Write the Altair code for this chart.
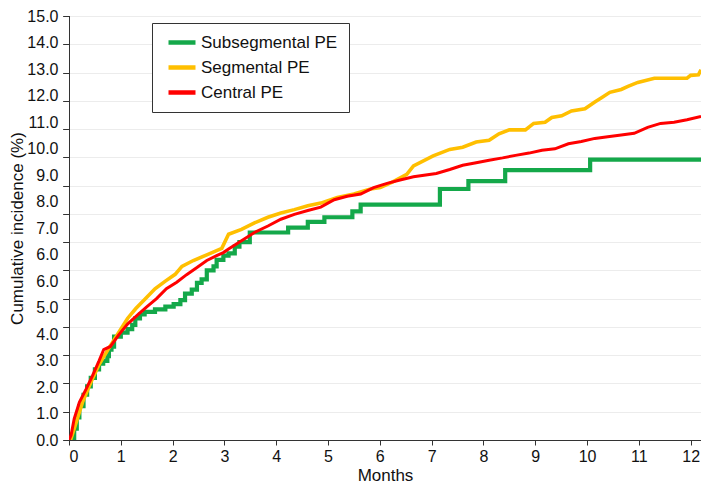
import json
import altair as alt
import pandas as pd

# ---- data ----
series_names = ["Subsegmental PE", "Segmental PE", "Central PE"]
series_colors = ["#14a84a", "#ffbf00", "#ff0000"]

sub_months = [0.0, 0.06, 0.1, 0.15, 0.2, 0.28, 0.35, 0.42, 0.5, 0.58, 0.66, 0.74, 0.77, 0.82,
              0.87, 1.0, 1.13, 1.22, 1.28, 1.37, 1.46, 1.66, 1.86, 2.02, 2.15, 2.24, 2.37,
              2.47, 2.56, 2.66, 2.79, 2.85, 2.98, 3.08, 3.2, 3.29, 3.49, 4.23, 4.61, 4.93,
              5.47, 5.63, 7.16, 7.71, 8.42, 10.06, 12.2]
sub_values = [0.0, 0.0, 0.4, 0.8, 1.2, 1.6, 1.9, 2.2, 2.5, 2.7, 2.8, 2.97, 3.2, 3.3,
              3.66, 3.8, 3.92, 4.07, 4.3, 4.44, 4.53, 4.62, 4.72, 4.81, 4.95, 5.18, 5.32,
              5.56, 5.68, 6.0, 6.14, 6.37, 6.52, 6.6, 6.84, 7.0, 7.34, 7.51, 7.72, 7.88,
              8.09, 8.33, 8.88, 9.16, 9.55, 9.92, 9.92]

seg_months = [0.0, 0.03, 0.14, 0.26, 0.42, 0.58, 0.77, 0.96, 1.13, 1.29, 1.46, 1.66, 1.86,
              2.05, 2.18, 2.4, 2.66, 2.95, 3.08, 3.33, 3.58, 3.84, 4.09, 4.35, 4.61, 4.86,
              5.18, 5.5, 5.82, 6.01, 6.26, 6.52, 6.65, 7.03, 7.35, 7.6, 7.86, 8.11, 8.3,
              8.5, 8.81, 8.97, 9.19, 9.32, 9.51, 9.7, 9.96, 10.15, 10.28, 10.44, 10.66,
              10.79, 10.98, 11.3, 11.93, 12.0, 12.15, 12.2]
seg_values = [0.0, 0.0, 0.63, 1.33, 2.03, 2.67, 3.25, 3.8, 4.3, 4.65, 4.97, 5.35, 5.62,
              5.86, 6.14, 6.35, 6.55, 6.78, 7.28, 7.45, 7.68, 7.88, 8.03, 8.15, 8.29, 8.38,
              8.58, 8.7, 8.88, 8.93, 9.14, 9.4, 9.7, 10.05, 10.28, 10.36, 10.54, 10.6, 10.83,
              10.97, 10.97, 11.2, 11.24, 11.41, 11.47, 11.64, 11.72, 11.96, 12.11, 12.3, 12.4,
              12.51, 12.65, 12.8, 12.8, 12.9, 12.92, 13.1]

cen_months = [0.0, 0.04, 0.1, 0.2, 0.33, 0.45, 0.58, 0.67, 0.8, 0.96, 1.13, 1.32, 1.5, 1.69,
              1.88, 2.08, 2.27, 2.47, 2.66, 2.85, 2.98, 3.08, 3.33, 3.58, 3.84, 4.09, 4.35,
              4.61, 4.86, 5.12, 5.37, 5.63, 5.88, 6.14, 6.39, 6.65, 7.09, 7.35, 7.6, 7.86,
              8.11, 8.37, 8.62, 8.88, 9.13, 9.38, 9.64, 9.89, 10.15, 10.4, 10.66, 10.91,
              11.17, 11.42, 11.68, 11.93, 12.2]
cen_values = [0.0, 0.17, 0.75, 1.33, 1.8, 2.26, 2.8, 3.2, 3.31, 3.72, 4.1, 4.42, 4.71, 5.0,
              5.35, 5.58, 5.85, 6.1, 6.35, 6.52, 6.63, 6.76, 7.05, 7.34, 7.57, 7.81, 7.98,
              8.12, 8.24, 8.5, 8.62, 8.7, 8.93, 9.08, 9.2, 9.31, 9.43, 9.57, 9.72, 9.81,
              9.9, 9.98, 10.07, 10.15, 10.25, 10.3, 10.48, 10.56, 10.67, 10.73, 10.79, 10.85,
              11.06, 11.2, 11.24, 11.33, 11.45]

x_ticks = list(range(0, 13))
y_ticks = list(range(0, 16))
# tick labels exactly as printed on the reference (note the repeated "6.0")
y_labels = ["0.0", "1.0", "2.0", "3.0", "4.0", "5.0", "6.0", "6.0", "7.0", "8.0",
            "9.0", "10.0", "11.0", "12.0", "13.0", "14.0", "15.0"]

FONT = "Liberation Sans"

rows = []
for name, ms, vs in [(series_names[0], sub_months, sub_values),
                     (series_names[1], seg_months, seg_values),
                     (series_names[2], cen_months, cen_values)]:
    for m, v in zip(ms, vs):
        rows.append({"series": name, "month": m, "value": v})
df = pd.DataFrame(rows)

color = alt.Color(
    "series:N",
    scale=alt.Scale(domain=series_names, range=series_colors),
    sort=series_names,
    legend=alt.Legend(
        title=None, orient="none", legendX=83, legendY=7, direction="vertical",
        padding=11, strokeColor="#333333", fillColor="white",
        symbolType="stroke", symbolSize=729, symbolStrokeWidth=4.5,
        symbolOffset=3, clipHeight=17,
        labelFontSize=17, labelFont=FONT, labelColor="#111111",
        rowPadding=7, labelOffset=3,
    ),
)

x_enc = alt.X(
    "month:Q",
    scale=alt.Scale(domain=[0, 12.2], nice=False, zero=False),
    axis=alt.Axis(values=x_ticks, format="d", title="Months", grid=False,
                  tickSize=5, tickColor="#333333", domainColor="#333333",
                  labelFontSize=16, labelPadding=3, labelFont=FONT, labelColor="#111111",
                  titleFontSize=17, titleFont=FONT, titleFontWeight="normal",
                  titleColor="#111111", titlePadding=3),
)
y_enc = alt.Y(
    "value:Q",
    scale=alt.Scale(domain=[0, 15], nice=False, zero=False),
    axis=alt.Axis(values=y_ticks, labels=False, title=None, orient="left",
                  grid=True, gridColor="#ececec", gridWidth=1,
                  tickSize=6, tickColor="#333333", domainColor="#333333"),
)

base = alt.Chart(df)
layers = []
widths = [4.2, 3.6, 3.0]
interps = ["step-after", "linear", "linear"]
for name, w, itp in zip(series_names, widths, interps):
    layers.append(
        base.transform_filter(alt.datum.series == name)
        .mark_line(strokeWidth=w, interpolate=itp, clip=True)
        .encode(x=x_enc, y=y_enc, color=color)
    )

label_df = pd.DataFrame({"pos": list(range(len(y_labels)))})
label_expr = json.dumps(y_labels) + "[datum.value]"
label_axis = alt.Chart(label_df).mark_point(opacity=0).encode(
    y=alt.Y(
        "pos:Q",
        scale=alt.Scale(domain=[0, len(y_labels) - 1], nice=False, zero=False),
        axis=alt.Axis(values=list(range(len(y_labels))), labelExpr=label_expr,
                      orient="left", ticks=False, tickSize=0, domain=False, grid=False,
                      labelPadding=11, labelFontSize=16, labelFont=FONT, labelColor="#111111",
                      title="Cumulative incidence (%)", titleFontSize=17, titleFont=FONT,
                      titleFontWeight="normal", titleColor="#111111", titlePadding=0),
    )
)

chart = (
    alt.layer(*layers, label_axis)
    .resolve_scale(y="independent")
    .properties(
        width=693, height=475,
        autosize=alt.AutoSizeParams(type="fit", contains="padding"),
        padding={"left": 0, "top": 0, "right": 0, "bottom": 0},
        background="white",
    )
    .configure_view(stroke=None)
)

chart.save("out.html", embed_options={"renderer": "svg", "actions": False})
